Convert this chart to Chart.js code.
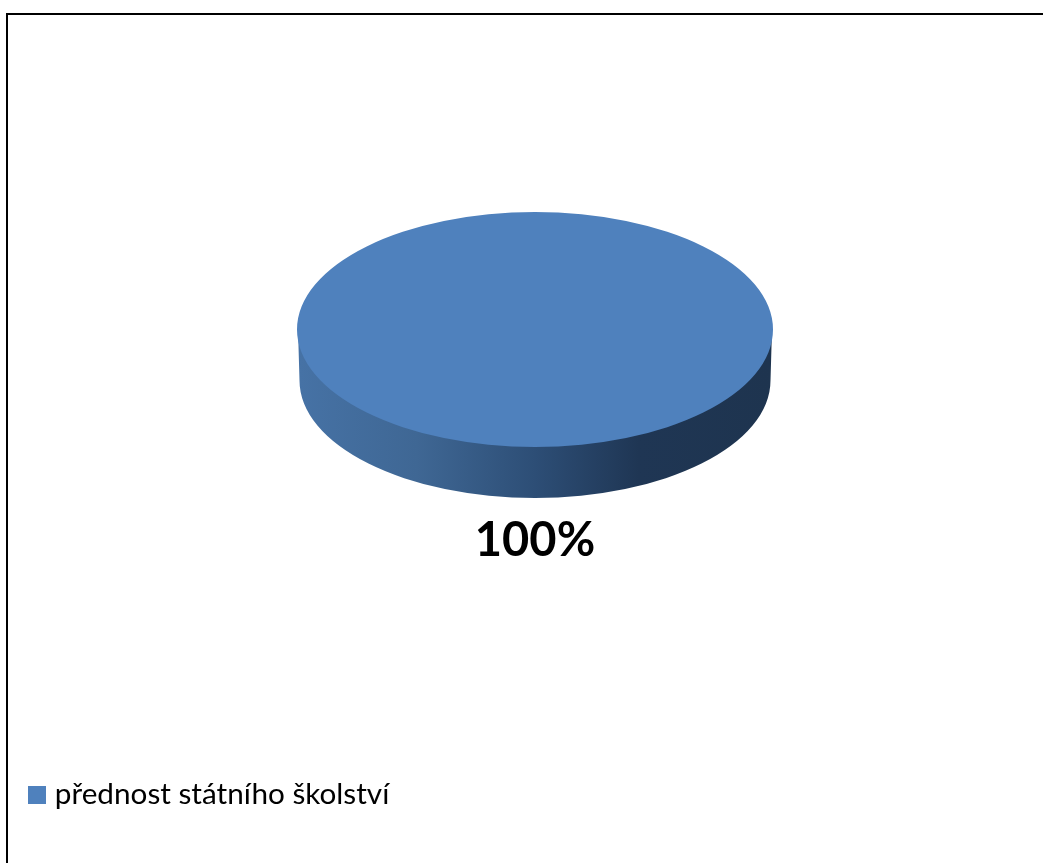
<!DOCTYPE html>
<html lang="cs">
<head>
<meta charset="utf-8">
<title>přednost státního školství</title>
<script src="https://cdn.jsdelivr.net/npm/chart.js@4/dist/chart.umd.min.js"></script>
<style>
  html, body { margin: 0; padding: 0; background: #fff; overflow: hidden; }
  canvas { display: block; }
</style>
</head>
<body>
<canvas id="pie" width="1043" height="863"></canvas>
<script>
const categories = ['přednost státního školství'];
const seriesValues = [100];
const sliceColors = ['#4F81BD'];

const TILT = 117.5 / 238;     // vertical squash of the disc
const DEPTH = 51;             // height of the disc's rim in px
const FONT = 'Lato, Carlito, "Open Sans", sans-serif';

// Square legend swatch; a sprite lets the label sit closer than the default gap.
const swatch = document.createElement('canvas');
swatch.width = 18;
swatch.height = 18;
const swatchCtx = swatch.getContext('2d');
swatchCtx.fillStyle = sliceColors[0];
swatchCtx.fillRect(0, 0, 18, 18);

// Outer frame: only the top and left edges fall inside the canvas.
const framePlugin = {
  id: 'frame',
  beforeDraw(chart) {
    const { ctx, width, height } = chart;
    ctx.save();
    ctx.fillStyle = '#fff';
    ctx.fillRect(0, 0, width, height);
    ctx.strokeStyle = '#000';
    ctx.lineWidth = 2;
    ctx.beginPath();
    ctx.moveTo(7, height);
    ctx.lineTo(7, 14);
    ctx.lineTo(width, 14);
    ctx.stroke();
    ctx.restore();
  }
};

// Squashes the round slice into an ellipse and paints the shaded rim beneath it.
const discPlugin = {
  id: 'disc',
  beforeDatasetsDraw(chart) {
    const { ctx } = chart;
    const arc = chart.getDatasetMeta(0).data[0];
    const { x, y, outerRadius: r } = arc;
    const ry = r * TILT;
    const inset = 2.5;
    const rimR = r - inset;
    const cyLow = y + DEPTH;

    const shade = ctx.createLinearGradient(x - rimR, 0, x + rimR, 0);
    shade.addColorStop(0, '#4672A5');
    shade.addColorStop(0.25, '#3F6794');
    shade.addColorStop(0.5, '#2D4E76');
    shade.addColorStop(0.72, '#1F3654');
    shade.addColorStop(1, '#1E344F');

    ctx.save();
    ctx.fillStyle = shade;
    ctx.beginPath();
    ctx.moveTo(x - r + 1, y);
    ctx.lineTo(x - rimR, cyLow);
    ctx.ellipse(x, cyLow, rimR, ry, 0, Math.PI, 0, true);
    ctx.lineTo(x + r - 1, y);
    ctx.closePath();
    ctx.fill();
    ctx.restore();

    ctx.save();
    ctx.translate(0, y);
    ctx.scale(1, TILT);
    ctx.translate(0, -y);
  },
  afterDatasetsDraw(chart) {
    chart.ctx.restore();
  }
};

// Percentage label under the disc, worked out from the slice's share of the total.
const percentPlugin = {
  id: 'percent',
  afterDatasetsDraw(chart) {
    const { ctx } = chart;
    const arc = chart.getDatasetMeta(0).data[0];
    const total = seriesValues.reduce((a, b) => a + b, 0);
    const text = Math.round(seriesValues[0] / total * 100) + '%';
    ctx.save();
    ctx.fillStyle = '#000';
    ctx.font = 'bold 47px ' + FONT;
    ctx.textAlign = 'center';
    ctx.textBaseline = 'alphabetic';
    ctx.fillText(text, arc.x, 556);
    ctx.restore();
  }
};

// Moves the legend box to the lower left of the canvas.
const legendSpot = {
  id: 'legendSpot',
  afterLayout(chart) {
    const lg = chart.legend;
    const w = lg.right - lg.left;
    const h = lg.bottom - lg.top;
    lg.left = 28;
    lg.right = 28 + w;
    lg.top = 774;
    lg.bottom = 774 + h;
  }
};

new Chart(document.getElementById('pie'), {
  type: 'pie',
  data: {
    labels: categories,
    datasets: [{
      data: seriesValues,
      backgroundColor: sliceColors,
      borderWidth: 0
    }]
  },
  options: {
    responsive: false,
    animation: false,
    layout: { padding: { left: 297, right: 270, top: 91.5, bottom: 295.5 } },
    plugins: {
      tooltip: { enabled: false },
      legend: {
        position: 'chartArea',
        align: 'start',
        labels: {
          usePointStyle: true,
          pointStyle: swatch,
          pointStyleWidth: 6,
          padding: 6,
          color: '#000',
          font: { family: FONT, size: 29.7 }
        }
      }
    }
  },
  plugins: [framePlugin, discPlugin, percentPlugin, legendSpot]
});
</script>
</body>
</html>
